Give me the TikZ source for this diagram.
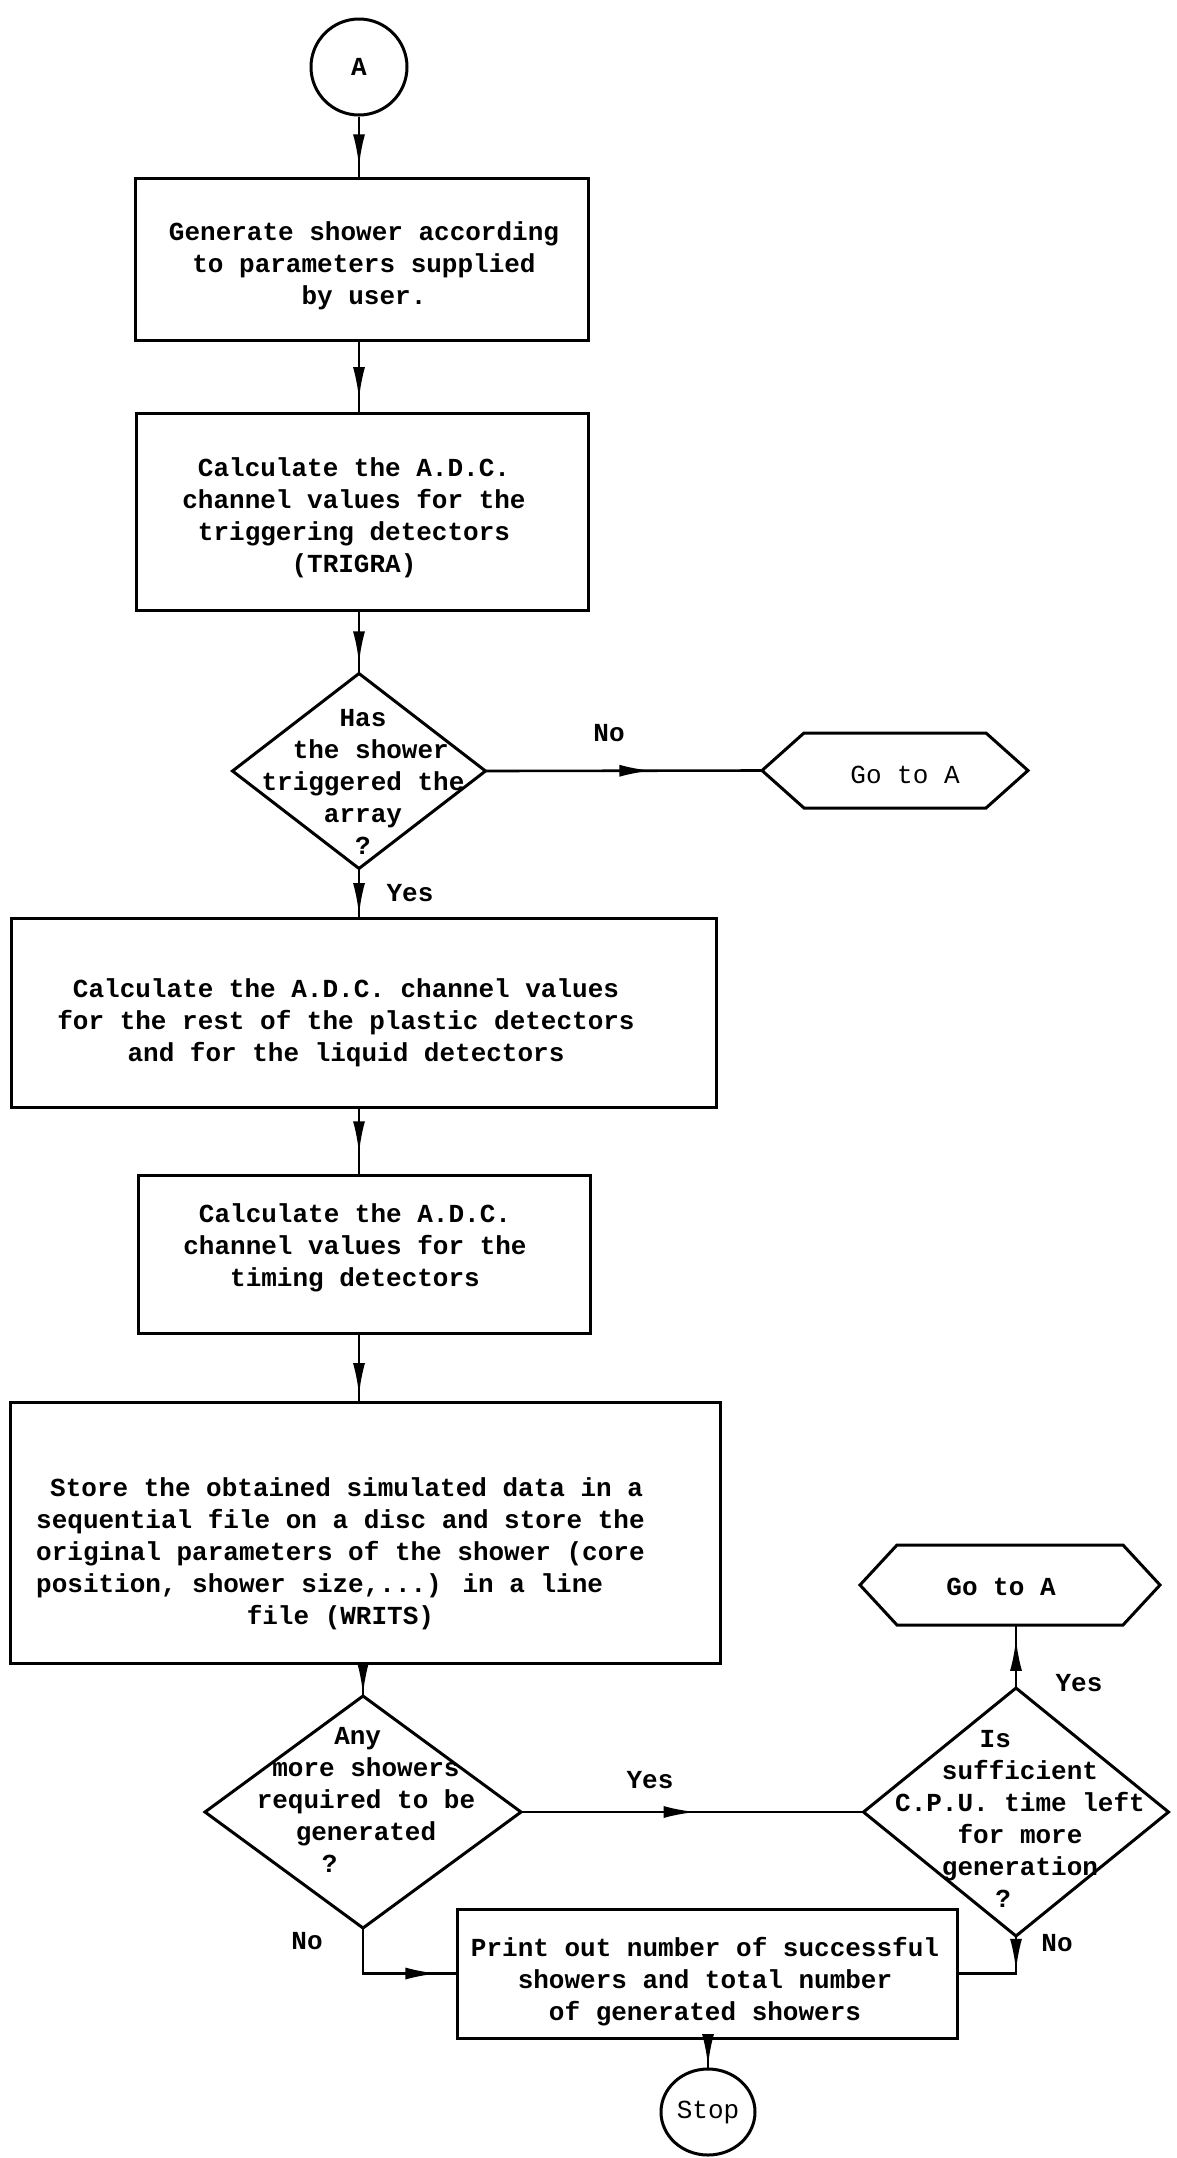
\documentclass[tikz,border=0pt]{standalone}
\usepackage{fontspec}
\setmainfont{Liberation Mono}
\usetikzlibrary{arrows.meta,shapes.geometric,decorations.markings,calc}
\begin{document}
\begin{tikzpicture}[x=1pt,y=-1pt,
  every node/.style={font=\fontsize{26}{32}\selectfont\bfseries},
  box/.style={draw, line width=3pt, rectangle, inner sep=0pt, outer sep=0pt},
  dia/.style={draw, line width=3pt, diamond, inner sep=0pt, outer sep=0pt},
  hexnode/.style={rectangle, inner sep=0pt, outer sep=0pt},
  hexline/.style={draw, line width=3pt, line join=miter},
  conn/.style={line width=2.6pt},
  txt/.style={align=center, inner sep=0pt},
  lbl/.style={inner sep=0pt},
  thin/.style={font=\fontsize{26}{32}\selectfont\mdseries},
  midarrow/.style={postaction={decorate,decoration={markings,mark=at position #1 with {\arrow{Latex[length=32pt,width=12pt]}}}}},
]
\fill[white] (0,0) rectangle (1177,2158);
\useasboundingbox (0,0) rectangle (1177,2158);

% start
\node[circle, draw, line width=3pt, minimum size=96pt, inner sep=0pt] (A) at (359,67) {A};

% box 1
\node[box, minimum width=453pt, minimum height=162pt] (b1) at (361.5,259) {};
\node[txt] (t1) at (364,266) {Generate shower according\\to parameters supplied\hspace*{0.6em}\\by user.};

% box 2
\node[box, minimum width=452pt, minimum height=197pt] (b2) at (362,511.5) {};
\node[txt] (t2) at (354,518) {Calculate the A.D.C.\\channel values for the\\triggering detectors\\(TRIGRA)};

% decision 1
\node[dia, minimum width=253pt, minimum height=195pt] (d1) at (359,771) {};
\node[txt] (td1) at (363,782) {Has\\\hspace*{0.6em}the shower\\triggered the\\array\hspace*{1.2em}\\?};

% go to A (1)
\node[hexnode, minimum width=266pt, minimum height=75pt] (h1) at (895,770.5) {};
\draw[hexline] (h1.west) -- ([xshift=42pt]h1.north west) -- ([xshift=-42pt]h1.north east)
  -- (h1.east) -- ([xshift=-42pt]h1.south east) -- ([xshift=42pt]h1.south west) -- cycle;
\node[txt, thin] (th1) at (905,775) {Go to A};

% box 3
\node[box, minimum width=705pt, minimum height=189pt] (b3) at (363.5,1012.5) {};
\node[txt] (t3) at (346,1023) {Calculate the A.D.C. channel values\\for the rest of the plastic detectors\\and for the liquid detectors};

% box 4
\node[box, minimum width=452pt, minimum height=158pt] (b4) at (364,1254) {};
\node[txt] (t4) at (355,1248) {Calculate the A.D.C.\\channel values for the\\timing detectors};

% box 5
\node[box, minimum width=710pt, minimum height=261pt] (b5) at (365,1532.5) {};
\node[txt, align=left, anchor=west] (t5) at (36,1554) {\hspace*{0.54em}Store the obtained simulated data in a\\sequential file on a disc and store the\\original parameters of the shower (core\\position, shower size,...) in a line\\\hspace*{8.1em}file (WRITS)};

% decision 2
\node[dia, minimum width=316pt, minimum height=232pt] (d2) at (363,1812) {};
\node[txt] (td2) at (366,1800) {Any\hspace*{0.64em}\\more showers\\required to be\\generated\\?\hspace*{2.8em}};

% decision 3
\node[dia, minimum width=305pt, minimum height=248pt] (d3) at (1016,1812) {};
\node[txt] (td3) at (1020,1819) {Is\hspace*{1.9em}\\sufficient\\C.P.U. time left\\for more\\generation\\?\hspace*{1.3em}};

% go to A (2)
\node[hexnode, minimum width=300pt, minimum height=80pt] (h2) at (1010,1585) {};
\draw[hexline] (h2.west) -- ([xshift=37pt]h2.north west) -- ([xshift=-37pt]h2.north east)
  -- (h2.east) -- ([xshift=-37pt]h2.south east) -- ([xshift=37pt]h2.south west) -- cycle;
\node[txt] (th2) at (1001,1587) {Go to A};

% box 6
\node[box, minimum width=500pt, minimum height=129pt] (b6) at (707,1973.5) {};
\node[txt] (t6) at (705,1982) {Print out number of successful\\showers and total number\\of generated showers};

% stop
\node[ellipse, draw, line width=3pt, minimum width=94pt, minimum height=86pt, inner sep=0pt, thin] (stop) at (708,2112) {Stop};

% labels
\node[lbl] (lno1) at (609,733) {No};
\node[lbl] (lyes1) at (410,893) {Yes};
\node[lbl] (lyes2) at (650,1780) {Yes};
\node[lbl] (lyes3) at (1079,1683) {Yes};
\node[lbl] (lno2) at (307,1941) {No};
\node[lbl] (lno3) at (1057,1943) {No};

% connectors
\draw[conn, midarrow=0.81] (A.south) -- (A.south |- b1.north);
\draw[conn, midarrow=0.81] (b1.south -| A) -- (b2.north -| A);
\draw[conn, midarrow=0.84] (b2.south -| d1) -- (d1.north);
\draw[conn, midarrow=0.6] (d1.east) -- (h1.west);
\draw[conn, midarrow=0.94] (d1.south) -- (d1.south |- b3.north);
\draw[conn, midarrow=0.68] (b3.south -| d1) -- (b4.north -| d1);
\draw[conn, midarrow=0.9] (b4.south -| d1) -- (b5.north -| d1);
\draw[conn, midarrow=0.95] (b5.south -| d2) -- (d2.north);
\draw[conn, midarrow=0.51] (d2.east) -- (d3.west);
\draw[conn, midarrow=0.78] (d3.north) -- (d3.north |- h2.south);
\draw[conn, midarrow=0.86] (d2.south) |- (b6.west);
\draw[conn, midarrow=0.36] (d3.south) |- (b6.east);
\draw[conn, midarrow=0.95] (b6.south -| stop) -- (stop.north);
\end{tikzpicture}
\end{document}
